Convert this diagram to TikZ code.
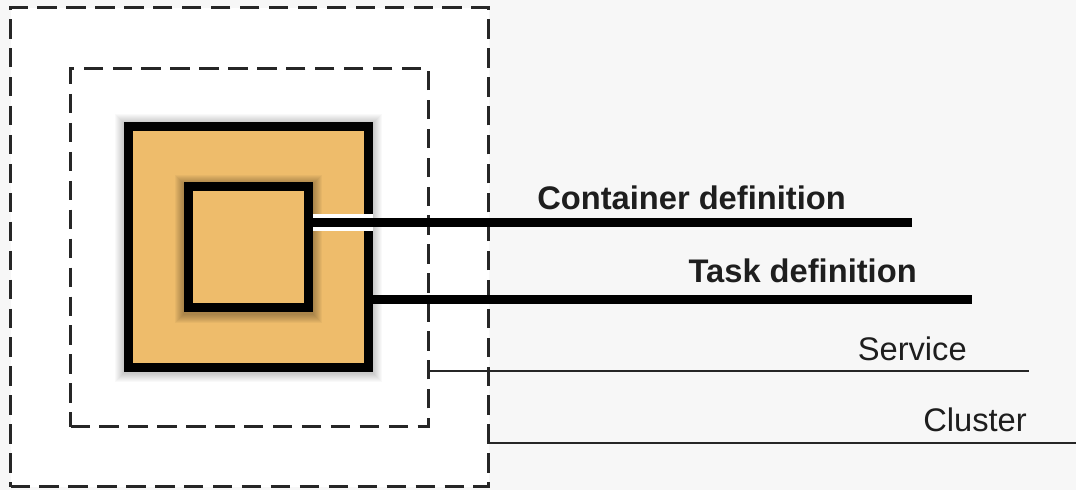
\documentclass[tikz,border=0pt]{standalone}
\usepackage{fontspec}
\setmainfont{Liberation Sans}
\definecolor{bgc}{HTML}{F7F7F7}
\definecolor{orangefill}{HTML}{EEBC6B}
\definecolor{txt}{HTML}{1E1E1E}
\pgfdeclarelayer{bglayer}
\pgfdeclarelayer{tshadow}
\pgfdeclarelayer{tasklayer}
\pgfdeclarelayer{cshadow}
\pgfsetlayers{bglayer,tshadow,tasklayer,cshadow,main}
\begin{document}
\begin{tikzpicture}[x=0.75pt,y=-0.75pt,
  dashbox/.style={draw=black!85, line width=1.9pt, dash pattern=on 14.5pt off 7.2pt, inner sep=0pt, anchor=north west},
  defbox/.style={draw=black, fill=orangefill, line width=6.75pt, inner sep=0pt, anchor=north west},
  heavy/.style={line width=6.75pt, draw=black},
  casing/.style={line width=12.5pt, draw=white},
  light/.style={line width=1.7pt, draw=black!85},
  shade1/.style={fill=black, opacity=0.025},
  shade2/.style={fill=black!70!orangefill, opacity=0.05},
  boldlabel/.style={font=\fontsize{24.5pt}{28pt}\selectfont\bfseries, text=txt, inner sep=0pt, anchor=base west},
  plainlabel/.style={font=\fontsize{24.5pt}{28pt}\selectfont, text=txt, inner sep=0pt, anchor=base east},
]
\begin{pgfonlayer}{bglayer}
\fill[bgc] (0,0) rectangle (1076,490);
\node[dashbox, fill=white, minimum width=478*0.75pt, minimum height=479*0.75pt] (cluster) at (9.25,6.25) {};
\end{pgfonlayer}
\useasboundingbox (0,0) rectangle (1076,490);

\node[dashbox, minimum width=358*0.75pt, minimum height=358*0.75pt] (service) at (69.25,67.25) {};
\begin{pgfonlayer}{tasklayer}
\node[defbox, minimum width=240*0.75pt, minimum height=241*0.75pt] (task) at (124,122) {};
\end{pgfonlayer}
\node[defbox, minimum width=120*0.75pt, minimum height=121*0.75pt] (container) at (184,182) {};

\begin{pgfonlayer}{tshadow}
\foreach \k in {1,...,9}
  \fill[shade1] ([shift={(-\k,-\k+1)}]task.north west) rectangle ([shift={(\k,\k+1)}]task.south east);
\end{pgfonlayer}
\begin{pgfonlayer}{cshadow}
\foreach \k in {1,...,9}
  \fill[shade2] ([shift={(-\k,-\k+1.5)}]container.north west) rectangle ([shift={(\k,\k+1.5)}]container.south east);
\end{pgfonlayer}

\coordinate (cend) at (912,222.5);
\coordinate (tend) at (972,299.5);
\coordinate (send) at (1029,370.7);
\coordinate (kend) at (1076,442.7);

\draw[casing] (container.east |- cend) -- (task.east |- cend);
\draw[heavy] (container.east |- cend) -- (cend);
\draw[heavy] (task.east |- tend) -- (tend);
\draw[light] (service.east |- send) -- (send);
\draw[light] (cluster.east |- kend) -- (kend);

\node[boldlabel] (lcont) at (537,209) {Container definition};
\node[boldlabel, anchor=base east] (ltask) at (917,282) {Task definition};
\node[plainlabel] (lserv) at (967,360.5) {Service};
\node[plainlabel] (lclus) at (1027,431.7) {Cluster};
\end{tikzpicture}
\end{document}
